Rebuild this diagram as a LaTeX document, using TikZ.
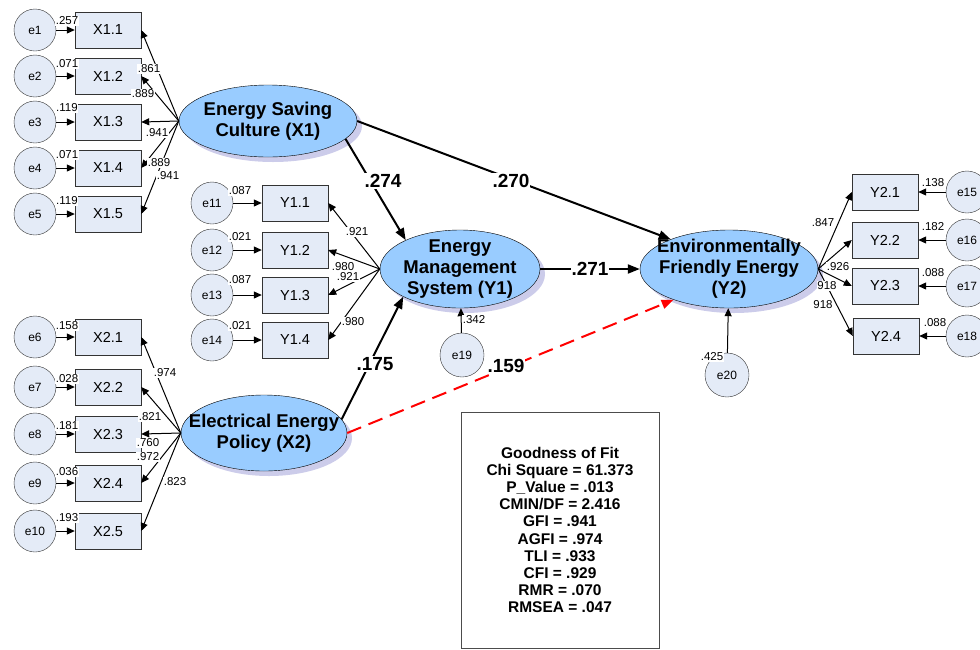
\documentclass[tikz,border=0pt]{standalone}
\usepackage{fontspec}
\setmainfont{Liberation Sans}
\usetikzlibrary{arrows.meta,shapes.geometric,shadows}
\definecolor{latblue}{RGB}{153,204,255}
\definecolor{boxfill}{RGB}{228,235,247}
\definecolor{shadowlav}{RGB}{204,204,234}

\begin{document}
\begin{tikzpicture}[
	x=1pt, y=-1pt,
	latent/.style={ellipse, draw, fill=latblue, inner sep=0pt, general shadow={fill=shadowlav, shadow xshift=5pt, shadow yshift=-5pt}},
	lattext/.style={align=center, inner sep=0pt, font=\bfseries\fontsize{18.5}{21}\selectfont},
	item/.style={rectangle, draw=black!80, fill=boxfill, minimum width=66pt, minimum height=36pt, font=\fontsize{14.5}{16}\selectfont},
	err/.style={circle, draw=black!80, fill=boxfill, minimum size=42pt, inner sep=0pt, font=\fontsize{12}{13}\selectfont},
	load/.style={-{Triangle[length=8pt,width=7pt]}, line width=1pt},
	effect/.style={-{Triangle[length=12pt,width=9pt]}, line width=2pt},
	num/.style={font=\fontsize{11.5}{13}\selectfont, inner sep=0.5pt, fill=white},
	coef/.style={font=\bfseries\fontsize{19}{21}\selectfont, inner sep=1pt, fill=white}
]
\useasboundingbox (0,0) rectangle (980,649);

\node[latent, minimum width=178pt, minimum height=72pt, label={[lattext]center:Energy Saving\\Culture (X1)}] (X1) at (268,121) {};
\node[latent, minimum width=166pt, minimum height=76pt, label={[lattext]center:Electrical Energy\\Policy (X2)}] (X2) at (264,433) {};
\node[latent, minimum width=160pt, minimum height=78pt, label={[lattext]center:Energy\\Management\\System (Y1)}] (Y1) at (460,269) {};
\node[latent, minimum width=178pt, minimum height=78pt, label={[lattext]center:Environmentally\\Friendly Energy\\(Y2)}] (Y2) at (729,269) {};

\node[item] (x11) at (108,30) {X1.1};
\node[item] (x12) at (108,76) {X1.2};
\node[item] (x13) at (108,122) {X1.3};
\node[item] (x14) at (108,168) {X1.4};
\node[item] (x15) at (108,214) {X1.5};
\node[err] (e1) at (35,30) {e1};
\node[err] (e2) at (35,76) {e2};
\node[err] (e3) at (35,122) {e3};
\node[err] (e4) at (35,168) {e4};
\node[err] (e5) at (35,214) {e5};

\node[item] (x21) at (108,337) {X2.1};
\node[item] (x22) at (108,387) {X2.2};
\node[item] (x23) at (108,434) {X2.3};
\node[item] (x24) at (108,483) {X2.4};
\node[item] (x25) at (108,531) {X2.5};
\node[err] (e6) at (35,337) {e6};
\node[err] (e7) at (35,387) {e7};
\node[err] (e8) at (35,434) {e8};
\node[err] (e9) at (35,483) {e9};
\node[err] (e10) at (35,531) {e10};

\node[item] (y11) at (295,203) {Y1.1};
\node[item] (y12) at (295,250) {Y1.2};
\node[item] (y13) at (295,295) {Y1.3};
\node[item] (y14) at (295,340) {Y1.4};
\node[err] (e11) at (212,203) {e11};
\node[err] (e12) at (212,250) {e12};
\node[err] (e13) at (212,295) {e13};
\node[err] (e14) at (212,340) {e14};

\node[item] (y21) at (885,192) {Y2.1};
\node[item] (y22) at (885,240) {Y2.2};
\node[item] (y23) at (885,286) {Y2.3};
\node[item] (y24) at (886,336) {Y2.4};
\node[err] (e15) at (967,192) {e15};
\node[err] (e16) at (967,240) {e16};
\node[err] (e17) at (967,286) {e17};
\node[err] (e18) at (967,336) {e18};

\node[err, minimum size=44pt] (e19) at (462,355) {e19};
\node[err, minimum size=44pt] (e20) at (727,375) {e20};

\node[draw=black!70, minimum width=198pt, minimum height=236pt, align=center, font=\bfseries\fontsize{15.5}{17.2}\selectfont] (gof) at (560,530) {Goodness of Fit\\Chi Square = 61.373\\P\_Value = .013\\CMIN/DF = 2.416\\GFI = .941\\AGFI = .974\\TLI = .933\\CFI = .929\\RMR = .070\\RMSEA = .047};

\draw[load] (X1.west) -- (x11.east);
\draw[load] (X1.west) -- (x12.east);
\draw[load] (X1.west) -- (x13.east);
\draw[load] (X1.west) -- (x14.east);
\draw[load] (X1.west) -- (x15.east);
\draw[load] (X2.west) -- (x21.east);
\draw[load] (X2.west) -- (x22.east);
\draw[load] (X2.west) -- (x23.east);
\draw[load] (X2.west) -- (x24.east);
\draw[load] (X2.west) -- (x25.east);
\draw[load] (Y1.west) -- (y11.east);
\draw[load] (Y1.west) -- (y12.east);
\draw[load] (Y1.west) -- (y13.east);
\draw[load] (Y1.west) -- (y14.east);
\draw[load] (Y2.east) -- (y21.west);
\draw[load] (Y2.east) -- (y22.west);
\draw[load] (Y2.east) -- (y23.west);
\draw[load] (Y2.east) -- (y24.west);

\draw[load] (e1) -- (x11);
\draw[load] (e2) -- (x12);
\draw[load] (e3) -- (x13);
\draw[load] (e4) -- (x14);
\draw[load] (e5) -- (x15);
\draw[load] (e6) -- (x21);
\draw[load] (e7) -- (x22);
\draw[load] (e8) -- (x23);
\draw[load] (e9) -- (x24);
\draw[load] (e10) -- (x25);
\draw[load] (e11) -- (y11);
\draw[load] (e12) -- (y12);
\draw[load] (e13) -- (y13);
\draw[load] (e14) -- (y14);
\draw[load] (e15) -- (y21);
\draw[load] (e16) -- (y22);
\draw[load] (e17) -- (y23);
\draw[load] (e18) -- (y24);
\draw[load] (e19) -- (Y1);
\draw[load] (e20) -- (Y2);

\draw[effect] (X1.-13) -- (Y1.152);
\draw[effect] (X1.east) -- (Y2.153);
\draw[effect] (X2.10) -- (Y1.206);
\draw[effect] (Y1.east) -- node[coef] (c271) {.271} (Y2.west);
\draw[effect, red, dash pattern=on 15pt off 8pt] (X2.east) -- (Y2.209);

\node[coef] (c274) at (383,181) {.274};
\node[coef] (c270) at (511,181) {.270};
\node[coef] (c175) at (375,364) {.175};
\node[coef] (c159) at (506,366) {.159};

\node[num] at (67,21) {.257};
\node[num] at (67,64) {.071};
\node[num] at (67,108) {.119};
\node[num] at (67,155) {.071};
\node[num] at (67,201) {.119};
\node[num] at (149,69) {.861};
\node[num] at (143,94) {.889};
\node[num] at (157,133) {.941};
\node[num] at (159,163) {.889};
\node[num] at (168,176) {.941};

\node[num] at (67,326) {.158};
\node[num] at (67,379) {.028};
\node[num] at (67,426) {.181};
\node[num] at (67,472) {.036};
\node[num] at (67,518) {.193};
\node[num] at (165,373) {.974};
\node[num] at (150,417) {.821};
\node[num] at (148,443) {.760};
\node[num] at (148,457) {.972};
\node[num] at (175,482) {.823};

\node[num] at (240,191) {.087};
\node[num] at (240,237) {.021};
\node[num] at (240,280) {.087};
\node[num] at (240,326) {.021};
\node[num] at (357,232) {.921};
\node[num] at (343,267) {.980};
\node[num] at (348,277) {.921};
\node[num] at (353,322) {.980};

\node[num] at (823,223) {.847};
\node[num] at (838,267) {.926};
\node[num] at (827,286) {918};
\node[num] at (823,305) {918};
\node[num] at (933,183) {.138};
\node[num] at (933,227) {.182};
\node[num] at (933,273) {.088};
\node[num] at (935,323) {.088};

\node[num] at (474,320) {.342};
\node[num] at (712,357) {.425};
\end{tikzpicture}
\end{document}
